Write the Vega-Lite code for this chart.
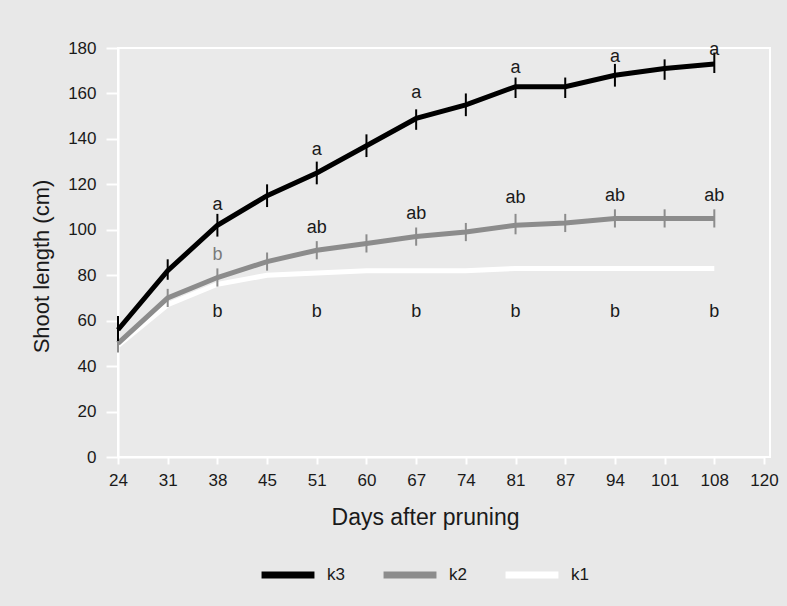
{
  "$schema": "https://vega.github.io/schema/vega-lite/v6.json",
  "autosize": "none",
  "width": 652,
  "height": 409,
  "padding": {"left": 118, "top": 48, "right": 17, "bottom": 149},
  "background": "#e8e8e8",
  "config": {
    "view": {"stroke": "#ffffff", "strokeWidth": 2, "fill": "#eaeaea"},
    "font": "Liberation Sans",
    "axis": {"grid": false, "domainColor": "#ffffff", "domainWidth": 2, "tickColor": "#ffffff", "tickWidth": 2, "labelColor": "#1a1a1a", "titleColor": "#1a1a1a", "labelFontSize": 17, "titleFontSize": 22, "titleFontWeight": "normal"}
  },
  "datasets": {
    "series": [
      {"day": 24, "series": "k1", "len": 49}, {"day": 31, "series": "k1", "len": 67}, {"day": 38, "series": "k1", "len": 76}, {"day": 45, "series": "k1", "len": 80}, {"day": 51, "series": "k1", "len": 81}, {"day": 60, "series": "k1", "len": 82}, {"day": 67, "series": "k1", "len": 82}, {"day": 74, "series": "k1", "len": 82}, {"day": 81, "series": "k1", "len": 83}, {"day": 87, "series": "k1", "len": 83}, {"day": 94, "series": "k1", "len": 83}, {"day": 101, "series": "k1", "len": 83}, {"day": 108, "series": "k1", "len": 83},
      {"day": 24, "series": "k2", "len": 50, "lo": 46, "hi": 54}, {"day": 31, "series": "k2", "len": 70, "lo": 66, "hi": 74}, {"day": 38, "series": "k2", "len": 79, "lo": 75, "hi": 83}, {"day": 45, "series": "k2", "len": 86, "lo": 82, "hi": 90}, {"day": 51, "series": "k2", "len": 91, "lo": 87, "hi": 95}, {"day": 60, "series": "k2", "len": 94, "lo": 90, "hi": 98}, {"day": 67, "series": "k2", "len": 97, "lo": 93, "hi": 101}, {"day": 74, "series": "k2", "len": 99, "lo": 95, "hi": 103}, {"day": 81, "series": "k2", "len": 102, "lo": 98, "hi": 107}, {"day": 87, "series": "k2", "len": 103, "lo": 99, "hi": 107}, {"day": 94, "series": "k2", "len": 105, "lo": 101, "hi": 109}, {"day": 101, "series": "k2", "len": 105, "lo": 101, "hi": 109}, {"day": 108, "series": "k2", "len": 105, "lo": 101, "hi": 109},
      {"day": 24, "series": "k3", "len": 56, "lo": 51, "hi": 62}, {"day": 31, "series": "k3", "len": 82, "lo": 78, "hi": 87}, {"day": 38, "series": "k3", "len": 102, "lo": 97, "hi": 107}, {"day": 45, "series": "k3", "len": 115, "lo": 110, "hi": 120}, {"day": 51, "series": "k3", "len": 125, "lo": 120, "hi": 130}, {"day": 60, "series": "k3", "len": 137, "lo": 132, "hi": 142}, {"day": 67, "series": "k3", "len": 149, "lo": 144, "hi": 153}, {"day": 74, "series": "k3", "len": 155, "lo": 150, "hi": 160}, {"day": 81, "series": "k3", "len": 163, "lo": 158, "hi": 167}, {"day": 87, "series": "k3", "len": 163, "lo": 158, "hi": 167}, {"day": 94, "series": "k3", "len": 168, "lo": 163, "hi": 173}, {"day": 101, "series": "k3", "len": 171, "lo": 166, "hi": 175}, {"day": 108, "series": "k3", "len": 173, "lo": 169, "hi": 178}
    ],
    "labels": [
      {"day": 38, "y": 111, "label": "a", "tone": "dark"},
      {"day": 51, "y": 135, "label": "a", "tone": "dark"},
      {"day": 67, "y": 160, "label": "a", "tone": "dark"},
      {"day": 81, "y": 171, "label": "a", "tone": "dark"},
      {"day": 94, "y": 176, "label": "a", "tone": "dark"},
      {"day": 108, "y": 179, "label": "a", "tone": "dark"},
      {"day": 38, "y": 89, "label": "b", "tone": "gray"},
      {"day": 51, "y": 101, "label": "ab", "tone": "dark"},
      {"day": 67, "y": 107, "label": "ab", "tone": "dark"},
      {"day": 81, "y": 114, "label": "ab", "tone": "dark"},
      {"day": 94, "y": 115, "label": "ab", "tone": "dark"},
      {"day": 108, "y": 115, "label": "ab", "tone": "dark"},
      {"day": 38, "y": 64, "label": "b", "tone": "dark"},
      {"day": 51, "y": 64, "label": "b", "tone": "dark"},
      {"day": 67, "y": 64, "label": "b", "tone": "dark"},
      {"day": 81, "y": 64, "label": "b", "tone": "dark"},
      {"day": 94, "y": 64, "label": "b", "tone": "dark"},
      {"day": 108, "y": 64, "label": "b", "tone": "dark"}
    ]
  },
  "encoding": {
    "x": {"field": "day", "type": "ordinal", "sort": null,
      "scale": {"type": "point", "domain": [24, 31, 38, 45, 51, 60, 67, 74, 81, 87, 94, 101, 108, 120], "range": [0, 646], "padding": 0},
      "axis": {"title": "Days after pruning", "labelAngle": 0, "tickSize": 7, "labelPadding": 8, "titlePadding": 18, "titleX": 307, "titleFontSize": 23}
    }
  },
  "layer": [
    {
      "data": {"name": "series"},
      "mark": {"type": "line", "strokeWidth": 5},
      "encoding": {
        "y": {"field": "len", "type": "quantitative", "scale": {"domain": [0, 180]}, "axis": {"title": "Shoot length (cm)", "values": [0, 20, 40, 60, 80, 100, 120, 140, 160, 180], "tickSize": 12, "labelPadding": 10, "titlePadding": 14, "titleY": 218}},
        "color": {"field": "series", "type": "nominal",
          "scale": {"domain": ["k3", "k2", "k1"], "range": ["#000000", "#8c8c8c", "#ffffff"]},
          "legend": {"title": null, "orient": "none", "direction": "horizontal", "legendX": 140, "legendY": 497, "symbolType": "stroke", "symbolSize": 2800, "symbolStrokeWidth": 7, "labelFontSize": 17, "labelColor": "#1a1a1a", "labelOffset": 9, "columnPadding": 24}
        },
        "order": {"field": "day", "type": "quantitative"}
      }
    },
    {
      "data": {"name": "series"},
      "transform": [{"filter": "datum.lo != null"}],
      "mark": {"type": "rule", "strokeWidth": 2},
      "encoding": {
        "y": {"field": "lo", "type": "quantitative"},
        "y2": {"field": "hi"},
        "color": {"field": "series", "type": "nominal", "legend": null}
      }
    },
    {
      "data": {"name": "labels"},
      "mark": {"type": "text", "fontSize": 18, "baseline": "middle"},
      "encoding": {
        "y": {"field": "y", "type": "quantitative"},
        "text": {"field": "label"},
        "fill": {"field": "tone", "type": "nominal", "scale": {"domain": ["dark", "gray"], "range": ["#1a1a1a", "#7a7a7a"]}, "legend": null}
      }
    }
  ]
}
